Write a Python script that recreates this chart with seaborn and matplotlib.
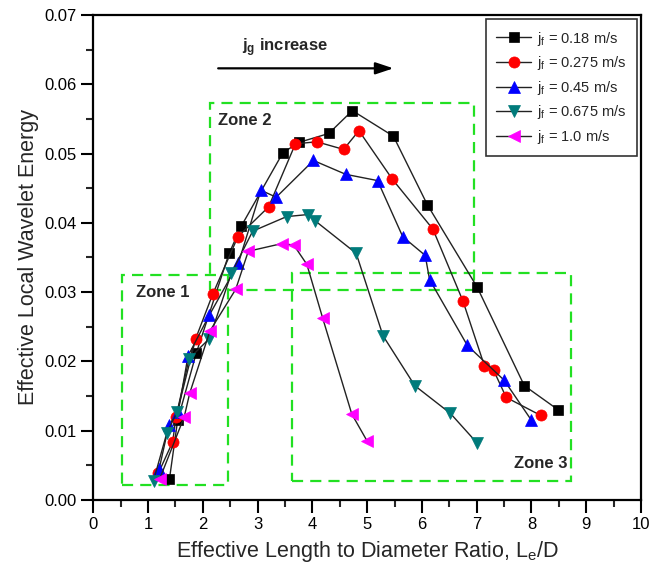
import matplotlib
matplotlib.use("Agg")
import matplotlib.pyplot as plt
import seaborn as sns
import pandas as pd
from matplotlib.patches import Rectangle
from matplotlib.ticker import MultipleLocator, FormatStrFormatter

# ---------------- data ----------------
x_018 = [1.39, 1.54, 1.88, 2.48, 2.70, 3.46, 3.75, 4.30, 4.73, 5.48, 6.10, 7.01, 7.87, 8.49]
y_018 = [0.0030, 0.0115, 0.0212, 0.0356, 0.0395, 0.0501, 0.0516, 0.0529, 0.0562, 0.0525, 0.0426, 0.0307, 0.0165, 0.0130]

x_0275 = [1.19, 1.45, 1.51, 1.87, 2.18, 2.64, 3.20, 3.69, 4.08, 4.57, 4.85, 5.46, 6.20, 6.75, 7.14, 7.31, 7.54, 8.17]
y_0275 = [0.0039, 0.0084, 0.0120, 0.0233, 0.0297, 0.0380, 0.0423, 0.0514, 0.0517, 0.0506, 0.0533, 0.0463, 0.0391, 0.0287, 0.0194, 0.0187, 0.0148, 0.0122]

x_045 = [1.20, 1.38, 1.55, 1.73, 2.12, 2.65, 3.06, 3.34, 4.02, 4.61, 5.19, 5.65, 6.06, 6.14, 6.83, 7.50, 8.00]
y_045 = [0.0044, 0.0108, 0.0127, 0.0208, 0.0267, 0.0342, 0.0447, 0.0437, 0.0490, 0.0470, 0.0461, 0.0380, 0.0353, 0.0318, 0.0223, 0.0173, 0.0115]

x_0675 = [1.10, 1.34, 1.53, 1.75, 2.12, 2.52, 2.91, 3.53, 3.92, 4.05, 4.80, 5.29, 5.87, 6.52, 7.01]
y_0675 = [0.0028, 0.0096, 0.0127, 0.0204, 0.0233, 0.0327, 0.0388, 0.0409, 0.0412, 0.0403, 0.0356, 0.0237, 0.0165, 0.0125, 0.0082]

x_10 = [1.21, 1.66, 1.76, 2.13, 2.60, 2.83, 3.44, 3.66, 3.90, 4.19, 4.72, 5.00]
y_10 = [0.0030, 0.0120, 0.0154, 0.0244, 0.0304, 0.0359, 0.0370, 0.0368, 0.0340, 0.0262, 0.0124, 0.0085]

series_labels = [r"j$_\mathrm{f}$ = 0.18 m/s", r"j$_\mathrm{f}$ = 0.275 m/s",
                 r"j$_\mathrm{f}$ = 0.45 m/s", r"j$_\mathrm{f}$ = 0.675 m/s",
                 r"j$_\mathrm{f}$ = 1.0 m/s"]
series_x = [x_018, x_0275, x_045, x_0675, x_10]
series_y = [y_018, y_0275, y_045, y_0675, y_10]

x_ticks = [0, 1, 2, 3, 4, 5, 6, 7, 8, 9, 10]
y_ticks = [0.00, 0.01, 0.02, 0.03, 0.04, 0.05, 0.06, 0.07]

zone_names = ["Zone 1", "Zone 2", "Zone 3"]
# (x0, x1, y0, y1) in data units
zone_boxes = [(0.53, 2.46, 0.0022, 0.0325),
              (2.13, 6.96, 0.0303, 0.0573),
              (3.63, 8.73, 0.0028, 0.0327)]

# ---------------- style ----------------
sns.set_theme(style="ticks")
plt.rcParams["font.family"] = ["Liberation Sans", "DejaVu Sans"]
plt.rcParams["mathtext.fontset"] = "custom"
plt.rcParams["mathtext.rm"] = "Liberation Sans"
plt.rcParams["mathtext.it"] = "Liberation Sans:italic"
plt.rcParams["mathtext.bf"] = "Liberation Sans:bold"

colors = ["#000000", "#ff0000", "#0000ff", "#007b7b", "#ff00ff"]
markers = ["s", "o", "^", "v", "<"]
msizes = [7, 8, 8, 8, 8]

fig = plt.figure(figsize=(6.52, 5.72), dpi=100)
ax = fig.add_axes([0.1431, 0.1259, 0.8400, 0.8479])

for xs, ys, lab, c, m, ms in zip(series_x, series_y, series_labels, colors, markers, msizes):
    df = pd.DataFrame({"x": xs, "y": ys})
    sns.lineplot(data=df, x="x", y="y", ax=ax, sort=False, estimator=None,
                 color="#222222", linewidth=1.0, marker=m, markersize=ms,
                 markerfacecolor=c, markeredgecolor=c, markeredgewidth=0.5,
                 label=lab, zorder=3)

green = "#22e022"
for (x0, x1, y0, y1) in zone_boxes:
    ax.add_patch(Rectangle((x0, y0), x1 - x0, y1 - y0, fill=False,
                           edgecolor=green, linewidth=1.6,
                           linestyle=(0, (5, 3.2)), zorder=2))

ax.text(0.78, 0.0300, zone_names[0], fontsize=12, fontweight="bold", ha="left", va="center")
ax.text(2.28, 0.0548, zone_names[1], fontsize=12, fontweight="bold", ha="left", va="center")
ax.text(8.65, 0.0052, zone_names[2], fontsize=12, fontweight="bold", ha="right", va="center")

ax.annotate("", xy=(5.48, 0.0623), xytext=(2.28, 0.0623),
            arrowprops=dict(arrowstyle="-|>,head_length=0.9,head_width=0.3",
                            color="black", lw=1.6, shrinkA=0, shrinkB=0))
ax.text(3.5, 0.0653, r"j$_\mathbf{g}$ increase", fontsize=12, fontweight="bold",
        ha="center", va="center")

ax.set_xlim(0, 10)
ax.set_ylim(0, 0.07)
ax.set_xticks(x_ticks)
ax.set_xticklabels([str(t) for t in x_ticks])
ax.set_yticks(y_ticks)
ax.yaxis.set_major_formatter(FormatStrFormatter("%.2f"))
ax.xaxis.set_minor_locator(MultipleLocator(0.5))
ax.yaxis.set_minor_locator(MultipleLocator(0.005))
ax.tick_params(axis="both", which="major", direction="out", length=9, width=1.5,
               labelsize=12, pad=3, colors="black")
ax.tick_params(axis="both", which="minor", direction="out", length=5, width=1.5)
for s in ax.spines.values():
    s.set_visible(True)
    s.set_linewidth(1.6)
    s.set_color("black")

ax.set_xlabel(r"Effective Length to Diameter Ratio, L$_\mathrm{e}$/D", fontsize=15.5, labelpad=5)
ax.set_ylabel("Effective Local Wavelet Energy", fontsize=15.5, labelpad=4)

leg = ax.legend(loc="upper right", bbox_to_anchor=(1.0, 1.0), borderaxespad=0.3,
                fontsize=10.5, frameon=True, fancybox=False, edgecolor="black",
                handlelength=2.4, labelspacing=0.45, borderpad=0.7, handletextpad=0.4)
leg.get_frame().set_linewidth(1.2)

fig.savefig("out.png", dpi=100)
